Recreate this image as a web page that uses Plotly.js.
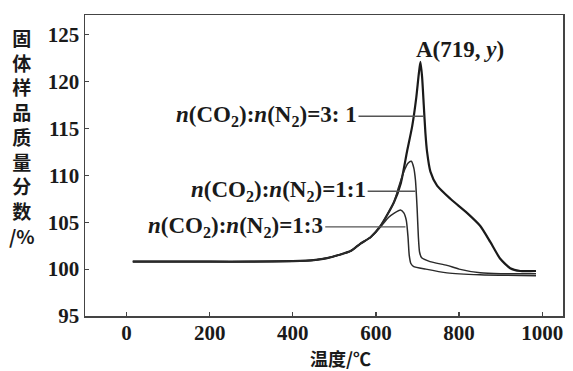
<!DOCTYPE html>
<html>
<head>
<meta charset="utf-8">
<script src="https://cdn.plot.ly/plotly-3.0.1.min.js"></script>
<style>html,body{margin:0;padding:0;background:#fff;}#chart{width:573px;height:371px;}</style>
</head>
<body>
<div id="chart"></div>
<script>
// ---- data ----
const temp31 = [15, 100, 200, 300, 400, 450, 480, 510, 540, 562, 587, 611, 643, 660, 675, 687, 697, 703, 707, 711, 715, 719, 723, 731, 747, 779, 819, 851, 875, 899, 923, 947, 985];
const mass31 = [100.8, 100.8, 100.8, 100.8, 100.85, 100.95, 101.15, 101.5, 101.95, 102.7, 103.4, 104.6, 107.1, 109.2, 112.6, 115.2, 118.3, 120.8, 122.1, 120.5, 117.5, 114.5, 112.5, 110.4, 108.9, 107.5, 106.0, 104.6, 102.9, 101.1, 100.1, 99.8, 99.8];

const temp11 = [15, 100, 200, 300, 400, 450, 480, 510, 540, 562, 587, 611, 643, 655, 667, 677, 685, 691, 695, 699, 702, 705, 710, 730, 771, 800, 851, 900, 985];
const mass11 = [100.8, 100.8, 100.8, 100.8, 100.85, 100.95, 101.15, 101.5, 101.95, 102.7, 103.4, 104.6, 107.1, 108.8, 110.4, 111.3, 111.5, 110.8, 109.5, 106.5, 103.5, 101.8, 101.2, 100.8, 100.4, 100.0, 99.6, 99.5, 99.5];

const temp13 = [15, 100, 200, 300, 400, 450, 480, 510, 540, 562, 587, 611, 630, 645, 659, 667, 673, 677, 680, 684, 690, 720, 771, 850, 985];
const mass13 = [100.8, 100.8, 100.8, 100.8, 100.85, 100.95, 101.15, 101.5, 101.95, 102.7, 103.4, 104.5, 105.5, 106.0, 106.3, 106.0, 105.2, 103.5, 101.5, 100.6, 100.3, 100.0, 99.6, 99.4, 99.3];

const seriesLabels = ["<i>n</i>(CO<sub>2</sub>):<i>n</i>(N<sub>2</sub>)=3: 1", "<i>n</i>(CO<sub>2</sub>):<i>n</i>(N<sub>2</sub>)=1:1", "<i>n</i>(CO<sub>2</sub>):<i>n</i>(N<sub>2</sub>)=1:3"];
const leaderY = [116.3, 108.3, 104.5];
const leaderStartX = [558, 580, 478];
const leaderEndX = [716, 695, 671];

const pointLabel = "A(719, <i>y</i>)";
const pointLabelX = 692;
const pointLabelY = 123.4;

const xTicks = [0, 200, 400, 600, 800, 1000];
const yTicks = [95, 100, 105, 110, 115, 120, 125];
const xTitle = "温度/℃";
const yTitle = "固体样品质量分数/%";

// ---- chart ----
const serif = "Liberation Serif, Times New Roman, serif";
const ink = "#1a1a1a";

const traces = [
  {x: temp31, y: mass31, mode: "lines", line: {color: ink, width: 2.2, shape: "spline", smoothing: 0.6}, hoverinfo: "skip"},
  {x: temp11, y: mass11, mode: "lines", line: {color: "#2a2a2a", width: 1.5, shape: "spline", smoothing: 0.6}, hoverinfo: "skip"},
  {x: temp13, y: mass13, mode: "lines", line: {color: "#2a2a2a", width: 1.5, shape: "spline", smoothing: 0.6}, hoverinfo: "skip"}
];
for (let i = 0; i < leaderY.length; i++) {
  traces.push({x: [leaderStartX[i], leaderEndX[i]], y: [leaderY[i], leaderY[i]], mode: "lines",
    line: {color: "#555", width: 1.4}, hoverinfo: "skip"});
}

const annotations = [];
for (let i = 0; i < seriesLabels.length; i++) {
  annotations.push({x: leaderStartX[i], y: leaderY[i], xref: "x", yref: "y", text: "<b>" + seriesLabels[i] + "</b>",
    showarrow: false, xanchor: "right", yanchor: "middle", xshift: 0,
    font: {family: serif, size: 23, color: ink}});
}
annotations.push({x: pointLabelX, y: pointLabelY, xref: "x", yref: "y", text: "<b>" + pointLabel + "</b>",
  showarrow: false, xanchor: "left", yanchor: "middle", font: {family: serif, size: 23, color: ink}});
annotations.push({x: 514, y: -0.138, xref: "x", yref: "paper", text: "<b>" + xTitle + "</b>", showarrow: false,
  xanchor: "center", yanchor: "middle", font: {family: "Noto Sans CJK SC", size: 18, color: ink}});
annotations.push({x: -0.132, y: 0.596, xref: "paper", yref: "paper", text: "<b>" + yTitle.split("").slice(0, 8).join("<br>") + "<br>/%</b>",
  showarrow: false, xanchor: "center", yanchor: "middle", align: "center",
  font: {family: "Noto Sans CJK SC", size: 19, color: ink}});

const tickFont = {family: serif, size: 21, color: ink, weight: "bold"};
const layout = {
  width: 573, height: 371,
  margin: {l: 85, r: 10, t: 15, b: 55},
  paper_bgcolor: "#fff", plot_bgcolor: "#fff",
  showlegend: false,
  xaxis: {range: [-100, 1050], tickvals: xTicks, ticks: "inside", ticklen: 4, tickwidth: 1.2, tickcolor: "#444",
    showline: true, mirror: true, linecolor: "#444", linewidth: 1.5, showgrid: false, zeroline: false,
    ticklabelstandoff: -3, tickfont: tickFont},
  yaxis: {range: [95, 127.1], tickvals: yTicks, ticks: "inside", ticklen: 4, tickwidth: 1.2, tickcolor: "#444",
    showline: true, mirror: true, linecolor: "#444", linewidth: 1.5, showgrid: false, zeroline: false,
    tickfont: tickFont},
  annotations: annotations
};

Plotly.newPlot("chart", traces, layout, {staticPlot: true, displayModeBar: false});
</script>
</body>
</html>
